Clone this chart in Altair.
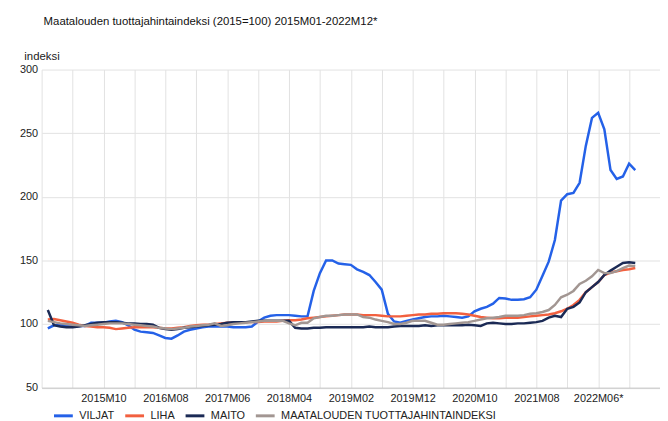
import altair as alt
import pandas as pd

# ---- data ----
years = list(range(2015, 2023))
months = [f"{y}M{m:02d}" for y in years for m in range(1, 13)]

viljat = [96.5, 99, 99.5, 99, 99, 98.5, 98.5, 101, 101, 101, 102, 102.5,
          101.5, 99, 95.5, 94, 93.5, 93, 91, 89, 88.5, 91, 94, 95.5,
          96.5, 97.5, 98, 98, 98, 98, 97.5, 97.5, 97.5, 98, 102, 105,
          106.5, 107, 107, 107, 106.5, 106, 106, 126, 140, 150, 150, 147.5,
          147, 146.5, 143, 141, 138.5, 133, 127, 108, 102, 101, 102.5, 103.5,
          104.5, 105.5, 106, 106, 106.5, 106, 105.5, 105, 106, 110, 112, 113.5,
          116, 120.5, 120, 119, 119, 119.5, 121, 127, 138, 149, 166, 197,
          202, 203, 211, 240, 262, 266, 253, 221, 214, 216, 226, 221]

liha = [103.5, 104, 103, 102, 101, 99.5, 98.5, 98, 97.5, 97.5, 97, 96,
        96.5, 97, 97.5, 97.5, 97.5, 97.5, 97, 96.5, 96.5, 97, 97.5, 98.5,
        99, 99.5, 99.5, 100, 100.5, 101, 101, 101, 101.5, 101.5, 101.5, 102,
        102, 102, 102.5, 103, 103, 103.5, 104.5, 105, 105.5, 106, 106.5, 107,
        107.5, 107.5, 107.5, 107, 107, 107, 106.5, 106, 106, 106, 106.5, 107,
        107.5, 107.5, 108, 108, 108.5, 108.5, 108.5, 108, 107.5, 106.5, 105.5, 105,
        104.5, 104.5, 105, 105, 105, 105.5, 106, 106.5, 107, 107.5, 108.5, 110,
        112, 115, 119, 125, 129, 133, 138.5, 140.5, 141.5, 142.5, 143, 144]

maito = [111, 99, 98, 97.5, 97.5, 98, 99, 100, 101, 101.5, 101.5, 101.5,
         101, 100.5, 100.5, 100, 100, 99.5, 97, 96, 95.5, 96, 97, 97.5,
         98, 98.5, 99, 99.5, 100, 101, 101.5, 101.5, 101.5, 102, 102.5, 102.5,
         102.5, 102.5, 102.5, 102.5, 97, 96.5, 96.5, 97, 97, 97.5, 97.5, 97.5,
         97.5, 97.5, 97.5, 97.5, 98, 97.5, 97.5, 97.5, 98, 98.5, 98.5, 98.5,
         98.5, 99, 98.5, 99, 99, 99, 99, 99, 99.5, 99, 98.5, 100.5,
         101, 100.5, 100, 100, 100.5, 100.5, 101, 101.5, 102.5, 105, 106.5, 105.5,
         112, 113.5, 117, 125, 129, 133, 138.5, 142, 145, 148, 148.5, 148]

tuottaja = [102.5, 101.5, 100.5, 100, 99.5, 99, 98.5, 99, 99.5, 100, 100.5, 100.5,
            100.5, 100, 99.5, 99, 98.5, 98, 97, 96.5, 96, 96.5, 97, 98,
            98.5, 99, 99.5, 100.5, 98.5, 99, 100, 100.5, 101, 101.5, 102, 102.5,
            102.5, 102.5, 102.5, 100.5, 99, 101, 101, 104.5, 105.5, 106.5, 106.5, 107,
            107.5, 107.5, 107.5, 105.5, 105, 103.5, 102.5, 101.5, 100, 100, 101, 102.5,
            102.5, 102.5, 101, 99.5, 99.5, 100, 100.5, 101, 101.5, 102.5, 103.5, 104.5,
            105, 105.5, 106.5, 106.5, 106.5, 107, 108, 108.5, 109.5, 111, 115, 121,
            123, 126, 131.5, 134, 137.5, 142.5, 140, 140, 141.5, 144, 146, 145.5]

series_names = ["VILJAT", "LIHA", "MAITO", "MAATALOUDEN TUOTTAJAHINTAINDEKSI"]
series_values = [viljat, liha, maito, tuottaja]
series_colors = ["#2461e8", "#f2603f", "#1b2a55", "#a29692"]

x_tick_labels = ["2015M10", "2016M08", "2017M06", "2018M04", "2019M02",
                 "2019M12", "2020M10", "2021M08", "2022M06*"]
y_ticks = [50, 100, 150, 200, 250, 300]

rows = []
for k, (name, vals) in enumerate(zip(series_names, series_values)):
    for i, (m, v) in enumerate(zip(months, vals)):
        rows.append({"kuukausi": m, "idx": i, "sarja": name, "ord": k, "indeksi": v})
df = pd.DataFrame(rows)

FONT = "Liberation Sans, Arial, sans-serif"
label_arr = "[" + ",".join(f"'{t}'" for t in x_tick_labels) + "]"
label_expr = (f"(datum.value >= 9 && datum.value <= 89 && datum.value % 10 == 9) ? "
              f"{label_arr}[floor(datum.value / 10)] : ''")

chart = alt.Chart(df).mark_line(strokeWidth=2.5).encode(
    x=alt.X("idx:Q",
            scale=alt.Scale(domain=[-1, 99], nice=False, zero=False),
            axis=alt.Axis(values=list(range(-1, 100, 5)), labelExpr=label_expr,
                          title=None, ticks=False, labelOverlap=False,
                          labelPadding=5, labelFontSize=11, labelFont=FONT,
                          labelColor="#222222", domain=True, domainColor="#c4c4c4",
                          gridColor="#e2e2e2", labelFlush=False)),
    y=alt.Y("indeksi:Q",
            scale=alt.Scale(domain=[50, 300], nice=False, zero=False),
            axis=alt.Axis(values=y_ticks, title="indeksi", titleAngle=0,
                          titleAlign="left", titleBaseline="middle",
                          titleX=-18, titleY=-13, titleFontSize=11.5,
                          titleFontWeight="normal", titleFont=FONT,
                          titleColor="#222222", ticks=False, domain=False,
                          labelPadding=4, labelFontSize=11, labelFont=FONT,
                          labelColor="#222222", gridColor="#e2e2e2")),
    color=alt.Color("sarja:N",
                    scale=alt.Scale(domain=series_names, range=series_colors),
                    legend=alt.Legend(title=None, orient="none", direction="horizontal",
                                      columns=4, legendX=11, legendY=339,
                                      symbolType="stroke", symbolStrokeWidth=3,
                                      symbolSize=361, labelOffset=5, labelLimit=0,
                                      columnPadding=4, labelFontSize=11,
                                      labelFont=FONT, labelColor="#222222")),
    order=alt.Order("idx:Q"),
    detail="ord:O",
).properties(
    width=625,
    height=321.5,
    autosize=alt.AutoSizeParams(type="none"),
    padding={"left": 34, "top": 60, "right": 0, "bottom": 31},
    title=alt.TitleParams("Maatalouden tuottajahintaindeksi (2015=100) 2015M01-2022M12*",
                          anchor="start", frame="group", fontSize=11.5,
                          fontWeight="normal", font=FONT, color="#111111",
                          dx=2, dy=-20),
).configure_view(stroke=None)

chart.save("out.html", embed_options={"renderer": "svg", "actions": False})
